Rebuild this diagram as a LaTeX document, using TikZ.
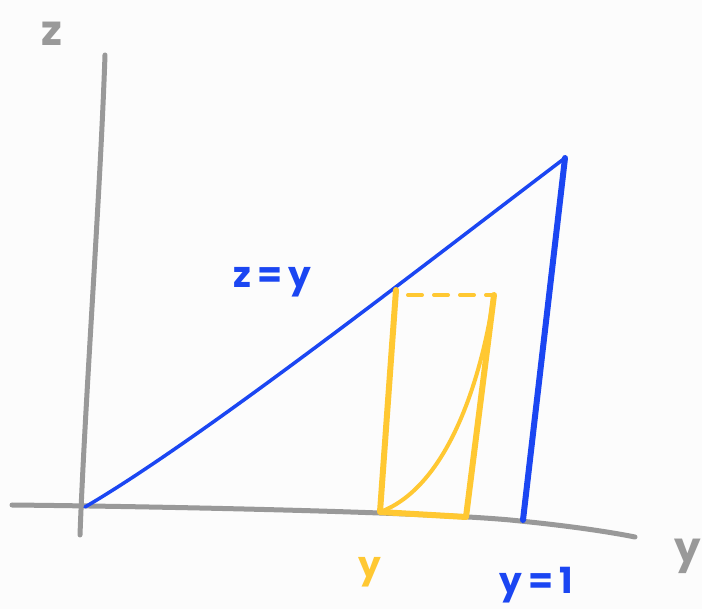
\documentclass[tikz,border=0pt]{standalone}
\usepackage{fontspec}
\setmainfont{Poppins}
\definecolor{bg}{HTML}{FCFCFC}
\definecolor{axisgray}{HTML}{999999}
\definecolor{penblue}{HTML}{1B46F2}
\definecolor{penyellow}{HTML}{FFC832}
\tikzset{
  axis/.style={draw=axisgray, line width=5pt, line cap=round},
  blueline/.style={draw=penblue, line width=3.5pt, line cap=round},
  bluethick/.style={draw=penblue, line width=6pt, line cap=round},
  yel/.style={draw=penyellow, line width=6pt, line cap=round, line join=round},
  yelthin/.style={draw=penyellow, line width=4pt, line cap=round},
  lbl/.style={font=\fontsize{36}{36}\selectfont\bfseries, inner sep=0pt},
}
\begin{document}
\begin{tikzpicture}[x=1pt,y=-1pt]
\fill[bg] (0,0) rectangle (702,609);
\useasboundingbox (0,0) rectangle (702,609);
% coordinates
\coordinate (ztop) at (105,55);
\coordinate (zbot) at (80,535);
\coordinate (yleft) at (12,505);
\coordinate (yright) at (635,537);
\coordinate (O) at (85,507);
\coordinate (P) at (565,158);
\coordinate (Q) at (523,520);
\coordinate (A) at (396,290);
\coordinate (B) at (380,512);
\coordinate (C) at (466,517);
\coordinate (D) at (494,295);
\coordinate (A2) at (408,295);
% axes
\draw[axis] (ztop) .. controls (100,200) and (85,400) .. (zbot);
\draw[axis] (yleft) .. controls (200,507) and (450,513) .. (520,521) .. controls (570,526) and (610,532) .. (yright);
% axis labels
\node[lbl, text=axisgray, font=\fontsize{42}{42}\selectfont\bfseries] (zl) at (52,34) {z};
\node[lbl, text=axisgray, font=\fontsize{42}{42}\selectfont\bfseries] (yl) at (688,556) {y};
% blue
\draw[blueline] (O) .. controls (200,440) and (420,268) .. (P);
\draw[bluethick] (P) -- (Q);
\node[lbl, text=penblue] (zy) at (272,282) {z\,=\,y};
\node[lbl, text=penblue] (y1) at (536,585) {y\,=\,1};
% yellow
\draw[yel] (A) -- (B) -- (C) -- (D);
\draw[yelthin, dash pattern=on 14pt off 12pt] (A2) -- (D);
\draw[yelthin] (B) .. controls (440,490) and (478,400) .. (D);
\node[lbl, text=penyellow] (yy) at (370,572) {y};
\end{tikzpicture}
\end{document}
